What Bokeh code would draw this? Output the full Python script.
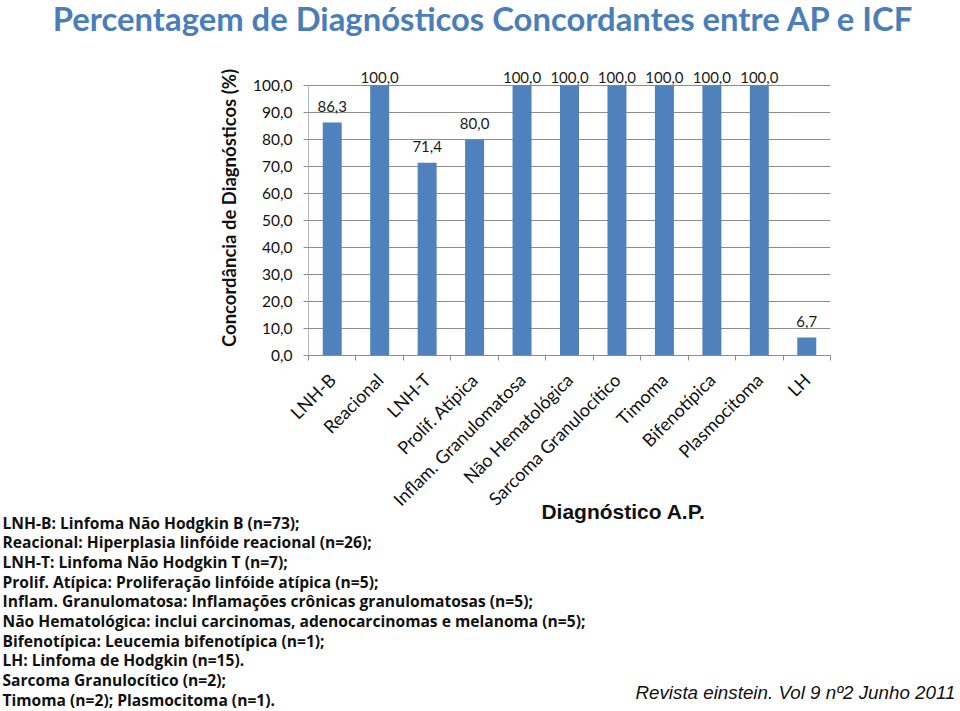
from math import pi
from bokeh.plotting import figure
from bokeh.layouts import column
from bokeh.models import (ColumnDataSource, Range1d, FixedTicker,
                          CustomJSTickFormatter, LabelSet, Label)
from bokeh.core.properties import value
from bokeh.embed import file_html
from bokeh.resources import INLINE

# ---------------- data ----------------
categories = ["LNH-B", "Reacional", "LNH-T", "Prolif. Atípica",
              "Inflam. Granulomatosa", "Não Hematológica",
              "Sarcoma Granulocítico", "Timoma", "Bifenotípica",
              "Plasmocitoma", "LH"]
concordance = [86.3, 100.0, 71.4, 80.0, 100.0, 100.0, 100.0, 100.0, 100.0, 100.0, 6.7]
y_ticks = [0, 10, 20, 30, 40, 50, 60, 70, 80, 90, 100]

title_text = "Percentagem de Diagnósticos Concordantes entre AP e ICF"
y_title = "Concordância de Diagnósticos (%)"
x_title = "Diagnóstico A.P."
legend_lines = [
    "LNH-B: Linfoma Não Hodgkin B (n=73);",
    "Reacional: Hiperplasia linfóide reacional (n=26);",
    "LNH-T: Linfoma Não Hodgkin T (n=7);",
    "Prolif. Atípica: Proliferação linfóide atípica (n=5);",
    "Inflam. Granulomatosa: Inflamações crônicas granulomatosas (n=5);",
    "Não Hematológica: inclui carcinomas, adenocarcinomas e melanoma (n=5);",
    "Bifenotípica: Leucemia bifenotípica (n=1);",
    "LH: Linfoma de Hodgkin (n=15).",
    "Sarcoma Granulocítico (n=2);",
    "Timoma (n=2); Plasmocitoma (n=1).",
]
source_note = "Revista einstein. Vol 9 nº2 Junho 2011"

# ---------------- page geometry (canvas px) ----------------
W, H = 960, 711
T_H = 45                 # title strip:     y 0 .. 45
S = 364                  # chart:           y 45 .. S ; lower strip: y S .. 711
FL, FR = 308, 830        # plot frame left / right
FT, FB = 60, 355         # plot frame top / bottom
Y100 = 85                # canvas y of the 100 % line
px_per_unit = (FB - Y100) / 100.0
y_end = (FB - FT) / px_per_unit

n = len(categories)
idx = list(range(n))
px_per_cat = (FR - FL) / n


def text_strip(height, x_range):
    f = figure(width=W, height=height, output_backend="svg", toolbar_location=None,
               x_range=x_range, y_range=Range1d(0, height),
               x_axis_type=None, y_axis_type=None, min_border=0)
    f.title.visible = False
    f.grid.visible = False
    f.outline_line_color = None
    f.background_fill_color = "white"
    f.border_fill_color = "white"
    try:
        f.frame_align = False
    except Exception:
        pass
    return f


# ---------------- title strip ----------------
t = text_strip(T_H, Range1d(0, W))
t.add_layout(Label(x=483, y=T_H - 18, text=title_text,
                   text_font="Lato", text_font_style="bold",
                   text_font_size="32.8px", text_color="#4A7EBB",
                   text_align="center", text_baseline="middle"))

# ---------------- chart ----------------
bar_labels = [f"{v:.1f}".replace(".", ",") for v in concordance]
label_y = [min(v + 3.8, 100.9) for v in concordance]   # Excel keeps labels inside the chart
src = ColumnDataSource(dict(x=idx, top=concordance, label=bar_labels, ly=label_y))

p = figure(width=W, height=S - T_H, output_backend="svg", toolbar_location=None,
           x_range=Range1d(-0.5, n - 0.5), y_range=Range1d(0, y_end),
           min_border_left=FL, min_border_right=W - FR,
           min_border_top=FT - T_H, min_border_bottom=S - FB)
p.title.visible = False
p.outline_line_color = None
p.background_fill_color = "white"
p.border_fill_color = "white"

p.vbar(x="x", top="top", width=0.4, source=src,
       fill_color="#4F81BD", line_color=None)

p.add_layout(LabelSet(x="x", y="ly", text="label", source=src,
                      text_align="center", text_baseline="bottom",
                      text_font=value("Lato"), text_font_size="15px",
                      text_color="#1a1a1a"))

xa = p.xaxis[0]
xa.ticker = FixedTicker(ticks=[], minor_ticks=[i - 0.5 for i in range(n + 1)])
xa.major_tick_out = 0
xa.major_label_standoff = 0
xa.minor_tick_line_color = "#8c8c8c"
xa.minor_tick_out = 5
xa.minor_tick_in = 0
xa.axis_line_color = "#8c8c8c"

ya = p.yaxis[0]
ya.ticker = FixedTicker(ticks=y_ticks)
ya.bounds = (0, 100)
ya.formatter = CustomJSTickFormatter(code="return tick.toFixed(1).replace('.', ',');")
ya.axis_line_color = "#a9b7c9"
ya.major_tick_line_color = "#8c8c8c"
ya.major_tick_out = 5
ya.major_tick_in = 0
ya.minor_tick_line_color = None
ya.major_label_standoff = 11
ya.major_label_text_font = "Lato"
ya.major_label_text_font_size = "15.5px"
ya.major_label_text_color = "#111111"
ya.axis_label = y_title
ya.axis_label_text_font = "Lato"
ya.axis_label_text_font_style = "bold"
ya.axis_label_text_font_size = "18.5px"
ya.axis_label_text_color = "#111111"
ya.axis_label_standoff = 10

p.xgrid.grid_line_color = None
p.ygrid.grid_line_color = "#8c8c8c"
p.ygrid.grid_line_width = 1

# ---------------- lower strip: category labels + notes ----------------
B_H = H - S
# same category scale as the chart, widened to the whole page width
b = text_strip(B_H, Range1d(-0.5 - FL / px_per_cat, n - 0.5 + (W - FR) / px_per_cat))

cat_src = ColumnDataSource(dict(x=idx, y=[H - 376] * n, text=categories))
b.text(x="x", y="y", text="text", source=cat_src, angle=pi / 4,
       text_align="right", text_baseline="middle",
       text_font=value("Lato"), text_font_size=value("18px"), text_color="#111111")


def note(cx, cy, text, **kw):
    # cx, cy in page pixels; screen units of the strip start at its bottom-left
    b.add_layout(Label(x=cx, y=H - cy, x_units="screen", y_units="screen",
                       text=text, **kw))


note(623, 511, x_title, text_font="Liberation Sans", text_font_style="bold",
     text_font_size="21px", text_color="#111111",
     text_align="center", text_baseline="middle")

for i, line in enumerate(legend_lines):
    note(2, 522 + i * 19.7, line, text_font="Open Sans", text_font_style="bold",
         text_font_size="15.6px", text_color="#111111",
         text_align="left", text_baseline="middle")

note(955, 692, source_note, text_font="Liberation Sans", text_font_style="italic",
     text_font_size="18.8px", text_color="#111111",
     text_align="right", text_baseline="middle")

layout = column(t, p, b, spacing=0)
open("out.html", "w").write(file_html(layout, INLINE))
